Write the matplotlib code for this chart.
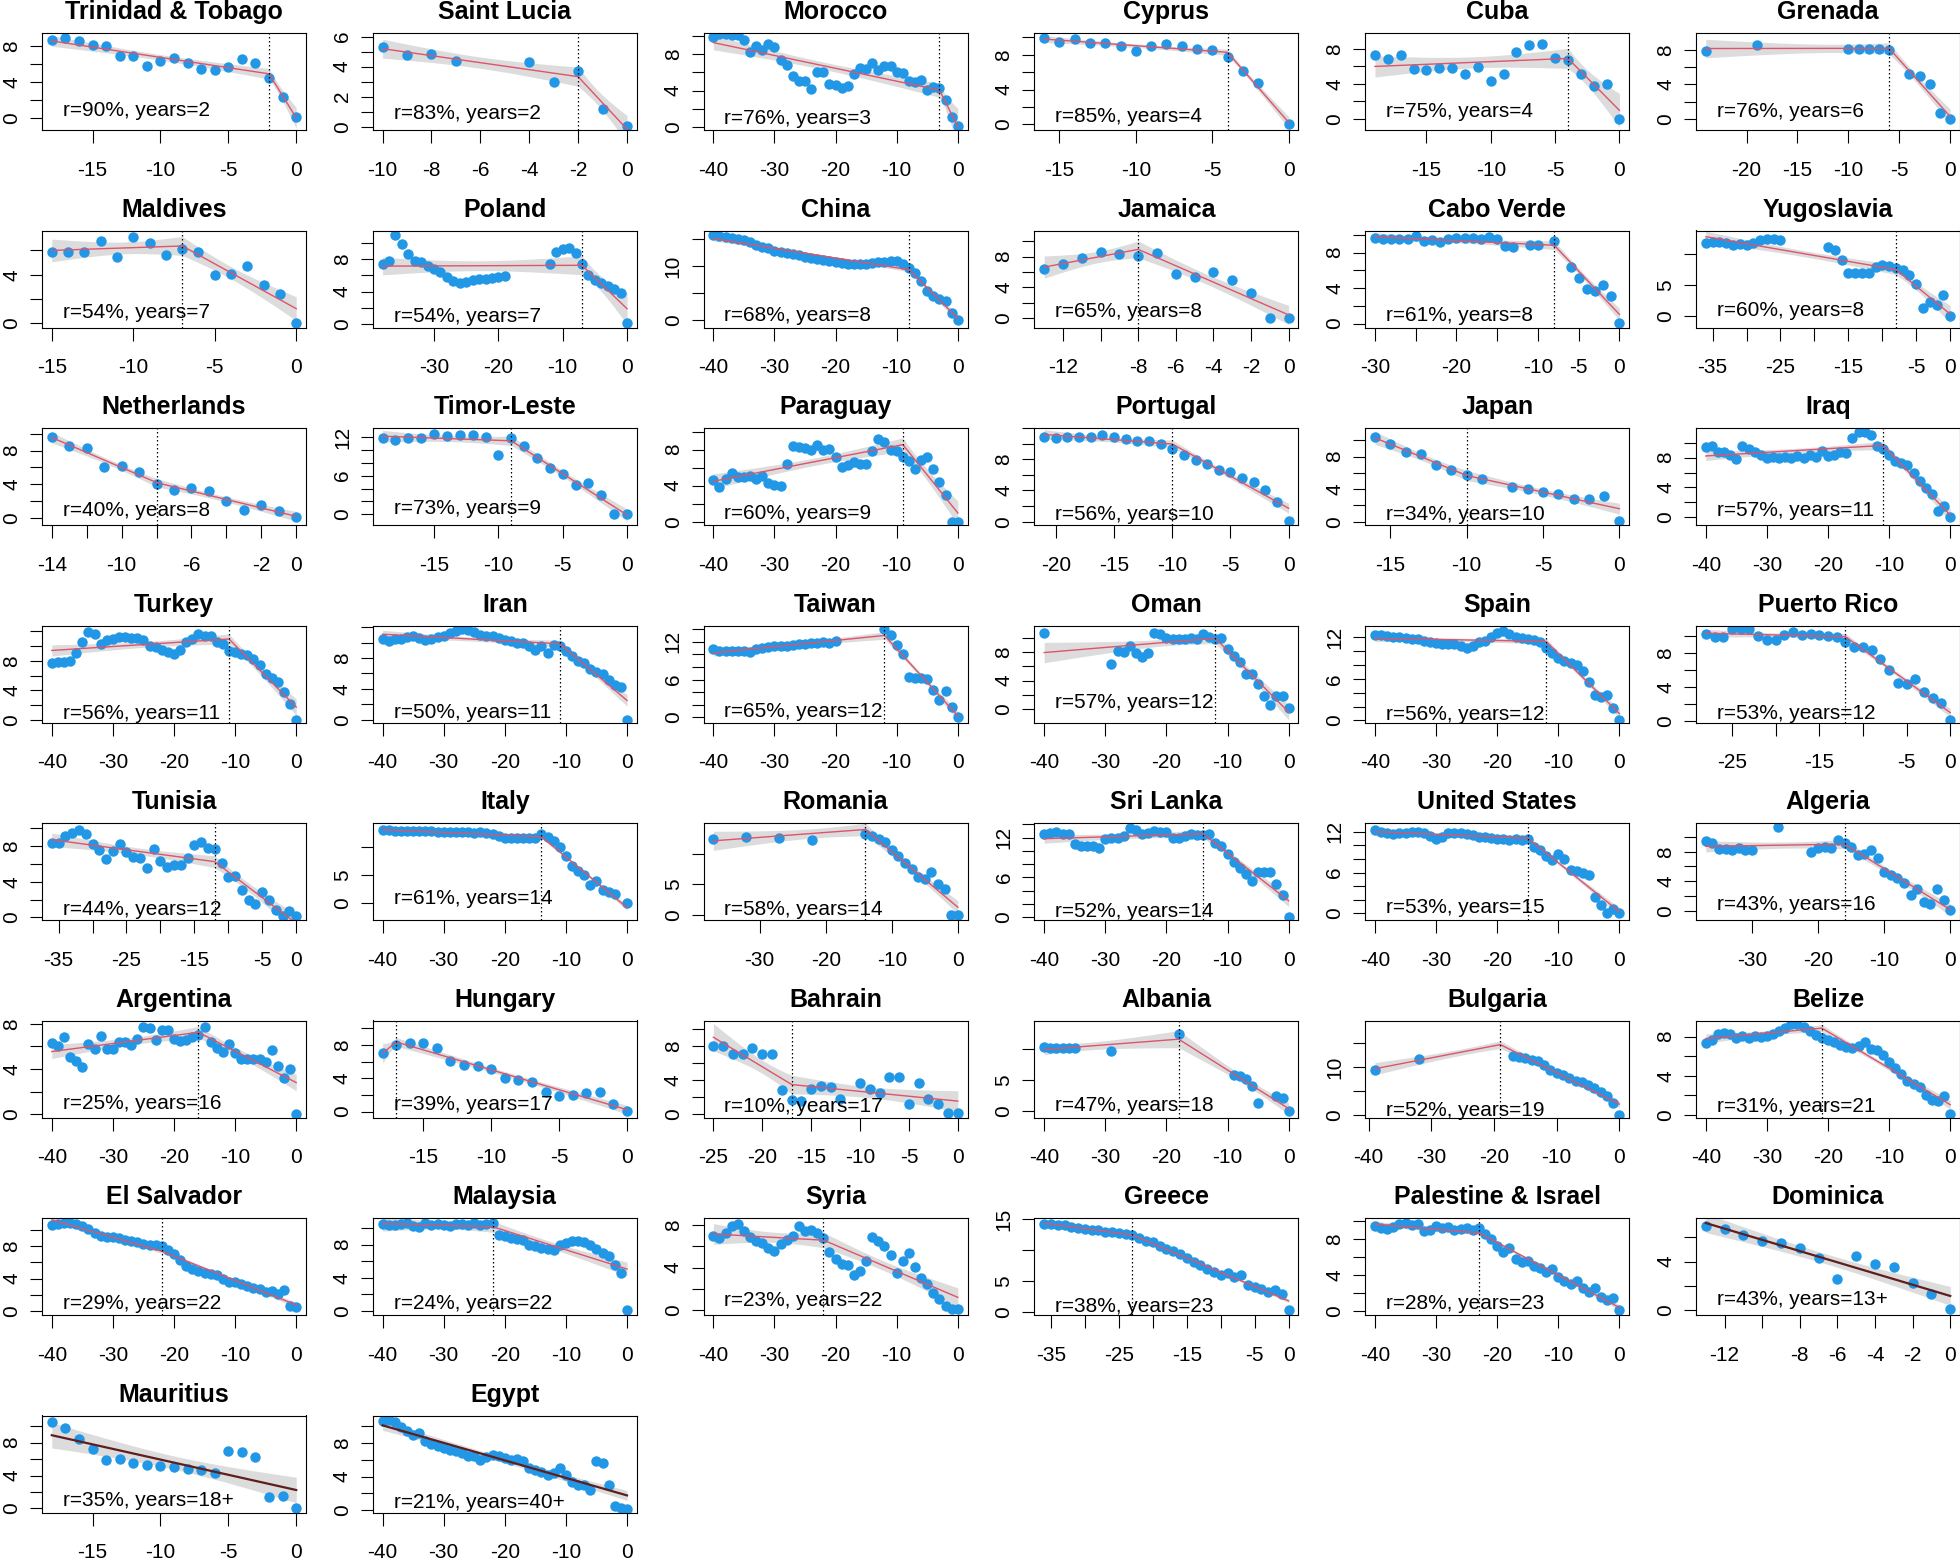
import numpy as np
import matplotlib
matplotlib.use("Agg")
import matplotlib.pyplot as plt

plt.rcParams['font.family'] = ['Liberation Sans', 'DejaVu Sans']

nan = float('nan')

countries = ["Trinidad & Tobago", "Saint Lucia", "Morocco", "Cyprus", "Cuba", "Grenada",
             "Maldives", "Poland", "China", "Jamaica", "Cabo Verde", "Yugoslavia",
             "Netherlands", "Timor-Leste", "Paraguay", "Portugal", "Japan", "Iraq",
             "Turkey", "Iran", "Taiwan", "Oman", "Spain", "Puerto Rico",
             "Tunisia", "Italy", "Romania", "Sri Lanka", "United States", "Algeria",
             "Argentina", "Hungary", "Bahrain", "Albania", "Bulgaria", "Belize",
             "El Salvador", "Malaysia", "Syria", "Greece", "Palestine & Israel", "Dominica",
             "Mauritius", "Egypt"]
r_pct = [90, 83, 76, 85, 75, 76,
         54, 54, 68, 65, 61, 60,
         40, 73, 60, 56, 34, 57,
         56, 50, 65, 57, 56, 53,
         44, 61, 58, 52, 53, 43,
         25, 39, 10, 47, 52, 31,
         29, 24, 23, 38, 28, 43,
         35, 21]
years = [2, 2, 3, 4, 4, 6,
         7, 7, 8, 8, 8, 8,
         8, 9, 9, 10, 10, 11,
         11, 11, 12, 12, 12, 12,
         12, 14, 14, 14, 15, 16,
         16, 17, 17, 18, 19, 21,
         22, 22, 22, 23, 23, 13,
         18, 40]
# "years=N+" panels have a single straight fit and no breakpoint
open_ended = [False] * 41 + [True, True, True]
first_year = [-18, -10, -40, -16, -19, -24,
              -15, -38, -40, -13, -30, -36,
              -14, -19, -40, -21, -16, -40,
              -40, -40, -40, -40, -40, -28,
              -36, -40, -37, -40, -40, -37,
              -40, -18, -25, -40, -39, -40,
              -40, -40, -40, -36, -40, -13,
              -18, -40]

# values for each year from first_year up to 0
trinidad_tobago = [8.7, 8.9, 8.6, 8.1, 8.0, 6.9, 6.9, 5.8, 6.3, 6.7, 6.1, 5.5, 5.4, 5.7, 6.6, 6.1, 4.5, 2.4, 0.1]
saint_lucia = [5.3, 4.75, 4.85, 4.4, nan, nan, 4.3, 3.0, 3.7, 1.15, 0.05]
morocco = [9.9, 10.3, 10.3, 10.2, 10.1, 9.6, 8.3, 8.9, 8.5, 9.2,
           8.8, 7.4, 6.8, 5.6, 5.0, 5.0, 4.2, 6.0, 6.0, 4.7,
           4.6, 4.3, 4.5, 5.8, 6.5, 6.4, 7.1, 6.3, 6.7, 6.7,
           6.0, 5.9, 5.0, 4.9, 5.2, 4.1, 4.4, 4.3, 2.9, 1.1, 0.1]
cyprus = [9.9, 9.5, 9.8, 9.4, 9.3, 9.0, 8.4, 9.0, 9.2, 9.0, 8.7, 8.5, 7.7, 6.1, 4.8, nan, 0.0]
cuba = [7.3, 6.9, 7.3, 5.7, 5.6, 5.8, 5.8, 5.1, 5.9, 4.3, 5.1, 7.7, 8.5, 8.6, 7.0, 6.8, 5.1, 3.8, 4.0, 0.0]
grenada = [7.9, nan, nan, nan, nan, 8.6, nan, nan, nan, nan, nan, nan, nan, nan,
           8.1, 8.1, 8.1, 8.1, 8.0, nan, 5.2, 5.0, 4.0, 0.7, 0.05]
maldives = [5.9, 5.9, 5.9, 6.8, 5.5, 7.1, 6.6, 5.6, 6.1, 5.9, 4.0, 4.1, 4.7, 3.2, 2.4, 0.0]
poland = [7.4, 7.8, 11.0, 9.8, 8.6, 7.7, 7.6, 7.1, 6.8, 6.4,
          5.8, 5.3, 5.1, 5.2, 5.4, 5.6, 5.6, 5.7, 5.8, 5.9,
          nan, nan, nan, nan, nan, nan,
          7.4, 8.8, 9.2, 9.3, 8.7, 7.4, 6.0, 5.4, 5.0, 4.7, 4.3, 3.8, 0.1]
china = [15.7, 15.6, 15.4, 15.3, 15.1, 14.8, 14.4, 14.0, 13.6, 13.3,
         12.9, 12.6, 12.4, 12.2, 12.0, 11.8, 11.6, 11.4, 11.2, 11.0,
         10.7, 10.6, 10.5, 10.4, 10.4, 10.5, 10.6, 10.7, 10.8, 11.0,
         10.9, 10.5, 9.6, 8.7, 7.3, 5.4, 4.6, 3.9, 3.5, 1.3, 0.1]
jamaica = [6.4, 7.0, 7.8, 8.6, 8.3, 8.1, 8.5, 5.7, 5.3, 6.0, 5.0, 3.3, 0.0, 0.05]
cabo_verde = [9.7, 9.5, 9.5, 9.5, 9.5, 9.9, 9.3, 9.4, 9.2, 9.5,
              9.6, 9.7, 9.7, 9.5, 9.8, 9.5, 8.7, 8.6, nan, 8.9,
              8.9, nan, 9.3, nan, 6.4, 5.1, 3.9, 3.7, 4.4, 3.1, 0.1]
yugoslavia = [11.8, 11.9, 11.9, 11.7, 11.5, 11.6, 11.4, 11.7, 12.2, 12.4,
              12.4, 12.2, nan, nan, nan, nan, nan, nan, 11.2, 10.6,
              9.0, 7.0, 7.0, 7.0, 7.0, 7.9, 8.2, 8.1, 7.8, 7.4,
              6.6, 5.2, 1.2, 2.3, 1.7, 3.3, 0.0]
netherlands = [9.6, 8.5, 8.3, 6.1, 6.2, 5.4, 4.0, 3.3, 3.5, 3.2, 2.0, 0.9, 1.5, 0.8, 0.1]
timor_leste = [11.9, 11.5, 11.9, 11.9, 12.4, 12.1, 12.3, 12.3, 12.0, 9.2,
               11.8, 10.6, 8.7, 7.2, 6.2, 4.6, 4.8, 3.0, 0.1, 0.1]
paraguay = [4.6, 3.9, 4.7, 5.4, 5.0, 5.0, 5.1, 4.7, 5.1, 4.3,
            4.1, 4.0, 6.4, 8.4, 8.3, 8.2, 8.0, 8.5, 8.0, 8.1,
            7.2, 6.1, 6.3, 6.6, 6.4, 6.4, 7.8, 9.2, 8.9, 8.0,
            7.8, 7.2, 6.7, 5.9, 6.8, 7.2, 5.9, 4.4, 3.0, 0.0, 0.0]
portugal = [10.9, 10.7, 10.9, 10.9, 10.8, 11.1, 10.9, 10.6, 10.3, 10.3, 10.0,
            9.3, 8.6, 7.9, 7.4, 6.6, 6.3, 5.6, 5.1, 4.1, 2.5, 0.1]
japan = [10.4, 9.5, 8.5, 8.3, 7.0, 6.3, 5.7, 5.2, nan, 4.3, 4.0, 3.7, 3.4, 2.8, 2.8, 3.2, 0.1]
iraq = [9.4, 9.5, 8.8, 8.8, 8.4, 7.8, 9.5, 9.2, 8.8, 8.3,
        8.0, 8.1, 8.0, 8.1, 7.9, 8.2, 8.0, 8.4, 8.1, 8.9,
        8.2, 8.4, 8.7, 8.6, 10.6, 11.4, 11.4, 11.0, 9.5, 9.2,
        8.4, 7.6, 7.3, 7.0, 5.9, 4.9, 3.9, 3.1, 0.8, 1.5, 0.0]
turkey = [7.7, 7.9, 7.8, 8.0, 9.1, 10.5, 11.9, 11.7, 10.3, 10.8,
          11.0, 11.2, 11.2, 11.1, 11.1, 10.8, 10.0, 9.9, 9.5, 9.2,
          8.9, 9.5, 10.5, 11.0, 11.6, 11.4, 11.4, 10.5, 10.3, 9.3,
          9.2, 9.0, 8.8, 8.3, 7.4, 6.2, 5.7, 5.2, 3.8, 2.2, 0.0]
iran = [10.5, 10.2, 10.5, 10.4, 10.7, 10.9, 10.6, 10.3, 10.4, 10.7,
        10.9, 11.2, 11.5, 11.8, 11.6, 11.3, 11.0, 10.8, 10.9, 10.6,
        10.3, 10.2, 10.0, 9.9, 9.5, 9.0, 9.6, 8.7, 9.7, 9.5,
        8.9, 8.3, 7.6, 7.3, 6.6, 6.2, 5.9, 5.1, 4.5, 4.2, 0.0]
taiwan = [10.8, 10.6, 10.5, 10.6, 10.5, 10.5, 10.4, 10.8, 11.1, 11.2,
          11.3, 11.4, 11.4, 11.5, 11.6, 11.7, 11.8, 11.9, 12.0, 11.9,
          12.1, nan, nan, nan, nan, nan, nan, nan, 14.1, 13.1,
          11.5, 10.0, 6.4, 6.3, 6.2, 6.1, 4.4, 2.8, 4.2, 1.6, 0.1]
oman = [10.6, nan, nan, nan, nan, nan, nan, nan, nan, nan, nan,
        6.3, 8.1, 8.0, 8.9, 7.9, 7.3, 7.9, 10.6, 10.5, 9.9,
        9.8, 9.8, 9.8, 10.0, 9.8, 10.5, 10.1, 9.8, 9.9, 8.4,
        7.4, 6.6, 4.9, 4.9, 3.5, 1.8, 0.6, 1.9, 1.9, 0.1]
spain = [12.4, 12.4, 12.2, 12.1, 12.0, 11.9, 11.8, 11.7, 11.5, 11.3,
         11.2, 11.0, 11.0, 11.0, 10.8, 10.5, 10.8, 11.3, 11.5, 12.1,
         12.6, 12.9, 12.5, 12.0, 11.9, 11.7, 11.6, 11.3, 10.4, 9.8,
         9.0, 8.6, 8.3, 8.0, 7.1, 5.5, 3.7, 3.4, 3.6, 1.8, 0.1]
puerto_rico = [10.3, 9.9, 9.9, 10.9, 10.9, 10.9, 10.0, 9.6, 9.6, 10.2,
               10.5, 10.2, 10.3, 10.2, 10.1, 9.9, 9.4, 8.8, 8.7, 8.4,
               7.3, 6.0, 4.5, 4.4, 5.0, 3.4, 2.7, 2.1, 0.1]
tunisia = [8.4, 8.4, 9.1, 9.5, 9.8, 9.4, 8.2, 7.6, 6.5, 7.4,
           8.2, 7.3, 6.8, 6.7, 5.5, 7.7, 6.3, 5.6, 5.9, 5.9,
           6.7, 8.1, 8.5, 7.8, 7.7, 6.1, 4.5, 4.6, 3.1, 2.0,
           1.5, 2.9, 1.9, 0.8, 0.1, 0.7, 0.1]
italy = [12.9, 12.9, 12.8, 12.8, 12.8, 12.7, 12.7, 12.7, 12.7, 12.6,
         12.6, 12.6, 12.6, 12.6, 12.6, 12.5, 12.6, 12.4, 12.2, 11.9,
         11.6, 11.5, 11.5, 11.5, 11.5, 11.5, 12.2, 11.7, 11.1, 10.0,
         8.3, 6.6, 5.8, 5.0, 3.3, 4.0, 2.3, 2.0, 1.6, nan, 0.0]
romania = [12.4, nan, nan, nan, nan, 12.7, nan, nan, nan, nan, 12.6, nan, nan, nan, nan,
           12.2, nan, nan, nan, nan, nan, nan, nan,
           13.2, 12.9, 12.4, 11.8, 10.5, 9.6, 8.4, 7.5, 6.2, 5.9, 7.1, 5.1, 4.3, 0.0, 0.0]
sri_lanka = [12.5, 12.7, 12.8, 12.6, 12.5, 11.1, 10.8, 10.8, 10.8, 10.5,
             11.8, 12.0, 11.9, 12.3, 13.5, 13.1, 12.6, 12.7, 13.0, 12.9,
             12.9, 12.0, 11.9, 12.3, 12.5, 12.4, 12.4, 12.6, 11.2, 10.7,
             9.5, 8.3, 7.5, 6.5, 5.5, 6.8, 6.8, 6.8, 5.0, 3.3, 0.1]
united_states = [12.2, 12.0, 11.8, 11.7, 11.8, 11.9, 12.0, 12.0, 11.8, 11.4,
                 11.0, 11.3, 11.9, 11.9, 11.8, 11.7, 11.5, 11.3, 11.2, 11.1,
                 11.0, 10.9, 10.8, 10.9, 10.8, 10.9, 9.8, 9.3, 8.5, 7.8,
                 8.7, 8.0, 6.4, 6.2, 5.9, 5.6, 2.4, 1.2, 0.1, 0.7, 0.1]
algeria = [9.5, 9.2, 8.4, 8.4, 8.3, 8.5, 8.3, 8.3, nan, nan, nan, 11.4, nan, nan, nan, nan,
           7.9, 8.5, 8.6, 8.5, 9.6, 9.2, 8.6,
           7.5, 7.7, 8.3, 7.1, 5.3, 4.9, 4.4, 3.8, 2.1, 2.9, 1.2, 0.9, 3.0, 1.5, 0.1]
argentina = [6.3, 6.0, 6.8, 5.1, 4.7, 4.2, 6.2, 5.8, 6.9, 5.8,
             5.8, 6.4, 6.4, 6.1, 6.7, 7.7, 7.6, 6.6, 7.5, 7.5,
             6.7, 6.5, 6.6, 6.8, 7.0, 7.7, 6.4, 5.9, 5.5, 6.2,
             5.4, 4.9, 4.9, 4.9, 4.9, 4.6, 5.7, 4.3, 3.2, 4.0, 0.0]
hungary = [7.0, 8.0, 8.2, 8.3, 7.6, 6.1, 5.6, 5.5, 5.1, 4.0, 3.8, 3.5, 2.3, 1.9, 2.0, 2.2, 2.3, 0.9, 0.1]
bahrain = [8.0, 8.0, 7.1, 7.0, 7.7, 7.1, 7.0, 2.8, 1.7, 1.5,
           2.9, 3.3, 3.2, 1.8, nan, 3.7, 2.9, 2.5, 4.4, 4.3,
           1.2, 3.7, 1.8, 1.2, 0.1, 0.1]
albania = [10.3, 10.1, 10.2, 10.1, 10.2, 10.2, nan, nan, nan, nan, nan, 9.7,
           nan, nan, nan, nan, nan, nan, nan, nan, nan, nan, 12.4,
           nan, nan, nan, nan, nan, nan, nan, nan,
           5.8, 5.6, 5.2, 4.0, 1.3, nan, nan, 2.4, 2.0, 0.0]
bulgaria = [9.5, nan, nan, nan, nan, nan, nan, 11.8,
            nan, nan, nan, nan, nan, nan, nan, nan, nan, nan, nan, nan, nan, nan,
            12.4, 12.2, 12.0, 11.6, 11.3, 10.4, 9.4, 8.9, 8.4, 7.7, 7.2, 6.9, 6.3, 5.6, 4.8, 3.9, 2.5, 0.1]
belize = [7.3, 7.6, 8.3, 8.4, 8.3, 7.9, 8.1, 7.9, 8.1, 8.0,
          8.1, 8.3, 8.6, 8.9, 9.3, 9.3, 9.0, 8.6, 8.2, 7.9,
          7.6, 7.4, 7.1, 6.9, 6.8, 7.0, 7.4, 6.7, 6.6, 6.1,
          5.4, 4.8, 4.2, 3.5, 3.2, 2.9, 2.1, 1.5, 1.4, 1.9, 0.1]
el_salvador = [10.6, 10.8, 10.9, 10.9, 10.8, 10.5, 10.2, 9.7, 9.3, 9.1,
               9.1, 9.0, 8.8, 8.7, 8.5, 8.3, 8.1, 8.2, 8.0, 7.6,
               7.0, 6.3, 5.6, 5.2, 4.9, 4.7, 4.6, 4.4, 3.9, 3.6,
               3.6, 3.3, 3.1, 2.9, 2.7, 2.4, 2.5, 2.1, 2.6, 0.6, 0.5]
malaysia = [10.5, 10.4, 10.3, 10.5, 10.6, 10.2, 10.1, 10.6, 10.4, 10.5,
            10.3, 10.2, 10.5, 10.5, 10.4, 10.6, 10.4, 10.5, 10.6, 9.2,
            9.0, 8.8, 8.7, 8.5, 8.0, 7.8, 7.6, 7.5, 7.3, 7.9,
            8.2, 8.4, 8.4, 8.3, 8.0, 7.5, 7.0, 6.6, 5.5, 4.6, 0.1]
syria = [7.0, 6.8, 7.3, 7.9, 8.1, 7.5, 6.9, 6.5, 6.3, 5.9,
         5.6, 6.2, 6.6, 7.0, 7.9, 7.5, 7.6, 7.3, 6.8, 5.5,
         4.8, 4.3, 4.2, 3.3, 3.7, 4.6, 6.9, 6.5, 6.0, 5.2,
         3.5, 4.6, 5.4, 4.1, 3.0, 2.4, 1.6, 1.0, 0.4, 0.1, 0.1]
greece = [14.2, 14.3, 14.1, 14.0, 13.8, 13.6, 13.5, 13.3, 13.2, 13.0,
          12.9, 12.7, 12.6, 12.4, 12.0, 11.5, 11.3, 10.6, 10.2, 9.8,
          9.3, 8.8, 8.0, 7.6, 6.9, 6.5, 5.9, 6.3, 5.6, 5.9,
          4.4, 4.1, 3.7, 3.3, 3.5, 2.9, 0.3]
palestine_israel = [9.4, 9.2, 9.1, 9.3, 9.6, 9.7, 9.5, 9.6, 8.9, 9.0,
                    9.4, 9.2, 9.3, 9.0, 9.1, 9.2, 9.0, 9.2, 8.5, 8.0,
                    7.2, 6.6, 7.0, 5.8, 5.4, 5.6, 5.0, 4.8, 4.3, 4.7,
                    3.8, 3.4, 3.0, 3.4, 2.6, 2.1, 2.6, 1.6, 1.2, 1.5, 0.1]
dominica = [6.9, 6.7, 6.2, 5.7, 5.5, 5.1, 4.3, 2.6, 4.5, 3.8, 3.6, 2.2, 1.3, 0.1]
mauritius = [10.5, 9.8, 8.5, 7.2, 5.9, 6.0, 5.5, 5.3, 5.1, 5.0, 4.8, 4.7, 4.3, 7.0, 6.9, 6.3, 1.4, 1.5, 0.1]
egypt = [10.6, 10.8, 10.5, 9.9, 9.5, 9.0, 9.2, 8.2, 7.9, 7.6,
         7.4, 7.2, 7.0, 6.8, 6.5, 6.4, 6.0, 6.3, 6.6, 6.5,
         6.2, 6.0, 6.1, 5.8, 5.0, 4.8, 4.6, 4.2, 4.4, 5.0,
         4.2, 3.4, 3.0, 3.0, 2.4, 5.9, 5.6, 3.0, 0.5, 0.2, 0.1]

series = [trinidad_tobago, saint_lucia, morocco, cyprus, cuba, grenada,
          maldives, poland, china, jamaica, cabo_verde, yugoslavia,
          netherlands, timor_leste, paraguay, portugal, japan, iraq,
          turkey, iran, taiwan, oman, spain, puerto_rico,
          tunisia, italy, romania, sri_lanka, united_states, algeria,
          argentina, hungary, bahrain, albania, bulgaria, belize,
          el_salvador, malaysia, syria, greece, palestine_israel, dominica,
          mauritius, egypt]

# vertical extent of each panel (axis limits)
y_limits = [(-1.29, 9.45), (-0.22, 6.24), (-0.37, 10.37), (-0.65, 10.5), (-1.26, 9.83), (-1.27, 9.96),
            (-0.33, 7.64), (-0.41, 11.5), (-1.3, 16.6), (-1.2, 11.4), (-0.45, 10.5), (-1.88, 13.8),
            (-0.88, 10.7), (-1.66, 13.4), (-0.37, 10.4), (-0.43, 12.0), (-0.41, 11.5), (-1.03, 11.96),
            (-0.36, 12.8), (-0.34, 12.2), (-0.8, 14.6), (-1.86, 11.7), (-0.3, 13.7), (-0.2, 11.3),
            (-0.3, 10.6), (-2.94, 14.2), (-0.75, 14.95), (-0.4, 14.2), (-0.98, 13.3), (-1.27, 11.9),
            (-0.3, 8.3), (-0.72, 10.96), (-0.39, 10.98), (-1.08, 14.6), (-0.5, 19.8), (-0.24, 9.63),
            (-0.5, 11.5), (-0.5, 11.2), (-0.5, 8.7), (-0.5, 15.2), (-0.4, 10.3), (-0.4, 7.6),
            (-0.5, 11.3), (-0.3, 11.3)]

POINT_COL = '#2297E6'
FIT_COL = '#DF536B'
FIT_OPEN_COL = '#5E1E1E'
BAND_COL = '#DCDCDC'

DPI = 100
FIG_W, FIG_H = 1960, 1560
BOX_W, BOX_H = 264, 97
EM = 15 * DPI / 72.0          # tick label font size in px
GAP = 16.414                  # min gap between neighbouring tick labels, px


def r_pretty(lo, hi, n=5):
    # R's axis tick choice (GEPretty, high.u.bias=.8, u5.bias=1.7)
    cell = (hi - lo) / n
    U = 10 ** np.floor(np.log10(cell))
    unit = U
    if 2 * U - cell < 0.8 * (cell - unit):
        unit = 2 * U
        if 5 * U - cell < 1.7 * (cell - unit):
            unit = 5 * U
            if 10 * U - cell < 0.8 * (cell - unit):
                unit = 10 * U
    ns = np.ceil(lo / unit - 1e-9)
    nu = np.floor(hi / unit + 1e-9)
    return np.arange(ns, nu + 1) * unit


def label_width(s):
    return sum(0.333 if ch == '-' else 0.556 for ch in s) * EM


def visible_labels(ticks, lo, hi, length_px):
    labels, last = [], -1e9
    for t in ticks:
        s = '%d' % round(t)
        pos = (t - lo) / (hi - lo) * length_px
        w = label_width(s)
        if pos - w / 2 - last >= GAP:
            labels.append(s)
            last = pos + w / 2
        else:
            labels.append('')
    return labels


def t975(d):
    z = 1.959964
    return (z + (z**3 + z) / (4 * d) + (5 * z**5 + 16 * z**3 + 3 * z) / (96 * d**2)
            + (3 * z**7 + 19 * z**5 + 17 * z**3 - 15 * z) / (384 * d**3))


def hinge_fit(x, y, bp, single):
    def design(v):
        cols = [np.ones_like(v), v]
        if not single:
            cols.append(np.maximum(v - bp, 0.0))
        return np.column_stack(cols)
    X = design(x)
    beta, *_ = np.linalg.lstsq(X, y, rcond=None)
    dof = len(y) - X.shape[1]
    s2 = np.sum((y - X @ beta) ** 2) / dof
    cov = s2 * np.linalg.inv(X.T @ X)
    grid = np.linspace(x.min(), 0, 400)
    if not single:
        grid = np.union1d(grid, [bp])
    G = design(grid)
    fit = G @ beta
    se = np.sqrt(np.einsum('ij,jk,ik->i', G, cov, G))
    t = t975(dof)
    return grid, fit, fit - t * se, fit + t * se


fig = plt.figure(figsize=(FIG_W / DPI, FIG_H / DPI), dpi=DPI)

for i, name in enumerate(countries):
    row, col = divmod(i, 6)
    left = (42 + 330.8 * col) / FIG_W
    bottom = 1 - (33 + 197.5 * row + BOX_H) / FIG_H
    ax = fig.add_axes([left, bottom, BOX_W / FIG_W, BOX_H / FIG_H])

    yv = np.array(series[i], dtype=float)
    xv = np.arange(first_year[i], first_year[i] + len(yv), dtype=float)
    ok = ~np.isnan(yv)
    single = open_ended[i]
    bp = -years[i]

    gx, gfit, glo, ghi = hinge_fit(xv[ok], yv[ok], bp, single)

    ax.fill_between(gx, glo, ghi, color=BAND_COL, lw=0, zorder=1)
    ax.plot(xv, yv, 'o', ms=7.5, color=POINT_COL, mew=0, zorder=2)
    if single:
        ax.plot(gx, gfit, color=FIT_OPEN_COL, lw=1.6, zorder=3)
    else:
        ax.plot(gx, gfit, color=FIT_COL, lw=1.0, zorder=3)
        ax.axvline(bp, color='black', lw=0.9, ls=(0, (1.2, 2.0)), zorder=4)

    xmin = first_year[i]
    xlo, xhi = xmin + 0.04 * xmin, -0.04 * xmin
    ylo, yhi = y_limits[i]
    ax.set_xlim(xlo, xhi)
    ax.set_ylim(ylo, yhi)

    xt = r_pretty(xlo, xhi)
    yt = r_pretty(ylo, yhi)
    ax.set_xticks(xt)
    ax.set_xticklabels(visible_labels(xt, xlo, xhi, BOX_W))
    ax.set_yticks(yt)
    ax.set_yticklabels(visible_labels(yt, ylo, yhi, BOX_H), rotation=90, va='center')

    ax.tick_params(axis='x', length=9, width=0.8, pad=13, labelsize=15)
    ax.tick_params(axis='y', length=9, width=0.8, pad=6, labelsize=15)
    for sp in ax.spines.values():
        sp.set_linewidth(0.8)

    ax.set_title(name, fontsize=18, fontweight='bold', pad=10)

    note = 'r=%d%%, years=%d%s' % (r_pct[i], years[i], '+' if single else '')
    ax.annotate(note, xy=(xmin, 0.9), xycoords='data', xytext=(8, 0),
                textcoords='offset points', ha='left', va='center', fontsize=15,
                zorder=5)

fig.savefig('out.png', dpi=DPI)
